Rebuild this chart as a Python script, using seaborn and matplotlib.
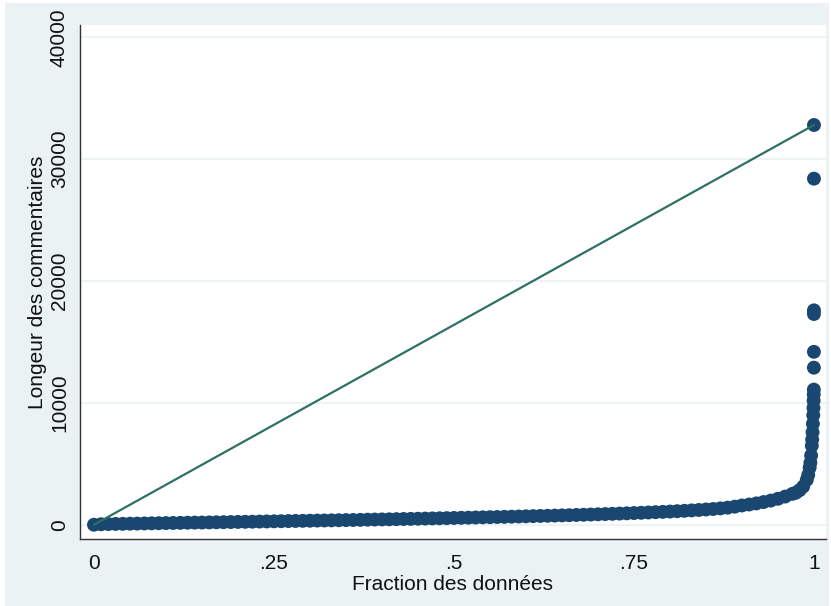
import matplotlib
matplotlib.use("Agg")
import matplotlib.pyplot as plt
import matplotlib.patches as mpatches
import seaborn as sns
import pandas as pd

# Quantile plot data
fraction = [0.00,
            0.01, 0.02, 0.03, 0.04, 0.05, 0.06, 0.07, 0.08, 0.09, 0.10,
            0.11, 0.12, 0.13, 0.14, 0.15, 0.16, 0.17, 0.18, 0.19, 0.20,
            0.21, 0.22, 0.23, 0.24, 0.25, 0.26, 0.27, 0.28, 0.29, 0.30,
            0.31, 0.32, 0.33, 0.34, 0.35, 0.36, 0.37, 0.38, 0.39, 0.40,
            0.41, 0.42, 0.43, 0.44, 0.45, 0.46, 0.47, 0.48, 0.49, 0.50,
            0.51, 0.52, 0.53, 0.54, 0.55, 0.56, 0.57, 0.58, 0.59, 0.60,
            0.61, 0.62, 0.63, 0.64, 0.65, 0.66, 0.67, 0.68, 0.69, 0.70,
            0.71, 0.72, 0.73, 0.74, 0.75, 0.76, 0.77, 0.78, 0.79, 0.80,
            0.81, 0.82, 0.83, 0.84, 0.85, 0.86, 0.87, 0.88, 0.89, 0.90,
            0.91, 0.92, 0.93, 0.94, 0.95, 0.96, 0.97, 0.975, 0.98, 0.985,
            0.99, 0.992, 0.994, 0.995, 0.996, 0.997, 0.9975, 0.998, 0.9985,
            0.999, 0.9993, 0.9995, 0.9997, 0.9998,
            0.99985, 0.9999, 0.99993, 0.99996, 0.99998, 1.0]
longueur = [20,
            60, 75, 85, 95, 105, 115, 125, 135, 145, 155,
            165, 175, 185, 195, 200, 210, 220, 230, 240, 250,
            260, 270, 280, 290, 300, 310, 320, 330, 340, 350,
            360, 370, 380, 390, 400, 410, 420, 435, 445, 455,
            465, 478, 490, 500, 512, 525, 537, 550, 562, 575,
            588, 600, 613, 626, 640, 653, 667, 680, 695, 710,
            725, 740, 755, 770, 786, 802, 820, 838, 856, 875,
            895, 915, 935, 955, 978, 1000, 1025, 1050, 1075, 1100,
            1130, 1160, 1195, 1230, 1270, 1310, 1360, 1420, 1500, 1600,
            1680, 1770, 1880, 2000, 2150, 2330, 2550, 2650, 2850, 3150,
            3700, 4100, 4700, 5100, 5700, 6500, 7000, 7600, 8300,
            9000, 9600, 10200, 10700, 11100,
            12900, 14200, 17300, 17600, 28400, 32800]

x_ticks = [0, 0.25, 0.5, 0.75, 1]
x_labels = ["0", ".25", ".5", ".75", "1"]
y_ticks = [0, 10000, 20000, 30000, 40000]
y_labels = ["0", "10000", "20000", "30000", "40000"]
x_title = "Fraction des données"
y_title = "Longeur des commentaires"

df = pd.DataFrame({"fraction": fraction, "longueur": longueur})
ref = pd.DataFrame({"fraction": [fraction[0], fraction[-1]],
                    "longueur": [min(longueur), max(longueur)]})

sns.set_style("white")
plt.rcParams["font.family"] = ["Liberation Sans", "DejaVu Sans"]

BG = "#EAF2F3"
NAVY = "#1A476F"
GREEN = "#2E7062"
AXC = "#333333"

fig = plt.figure(figsize=(8.31, 6.06), dpi=100, facecolor="white")
fig.patches.append(mpatches.Rectangle((5 / 831, 0), (829 - 5) / 831, 603 / 606,
                                      transform=fig.transFigure, facecolor=BG,
                                      edgecolor="none", zorder=-10))
ax = fig.add_axes([80 / 831, (606 - 539) / 606, (826 - 80) / 831, (539 - 25) / 606])
ax.set_facecolor("white")

sns.scatterplot(data=df, x="fraction", y="longueur", ax=ax, color=NAVY,
                s=100, linewidth=0, edgecolor="none", zorder=3)
sns.lineplot(data=ref, x="fraction", y="longueur", ax=ax, color=GREEN,
             linewidth=1.6, zorder=4)

ax.set_xlim(-0.0194, 1.0167)
ax.set_ylim(-1150, 41000)
ax.set_xticks(x_ticks)
ax.set_xticklabels(x_labels)
ax.set_yticks(y_ticks)
ax.set_yticklabels(y_labels, rotation=90, va="center")
for y in y_ticks:
    ax.axhline(y, color=BG, linewidth=1.2, zorder=1)

for s in ["top", "right"]:
    ax.spines[s].set_visible(False)
for s in ["left", "bottom"]:
    ax.spines[s].set_color(AXC)
    ax.spines[s].set_linewidth(1.0)

ax.tick_params(axis="both", direction="out", length=6, width=1.0, color=AXC,
               labelsize=15, labelcolor="#111111")
ax.tick_params(axis="y", pad=2)
ax.tick_params(axis="x", pad=5)
ax.set_xlabel(x_title, fontsize=15, color="#111111", labelpad=1)
ax.set_ylabel(y_title, fontsize=15, color="#111111", labelpad=2)

fig.savefig("out.png", dpi=100, facecolor=fig.get_facecolor())
